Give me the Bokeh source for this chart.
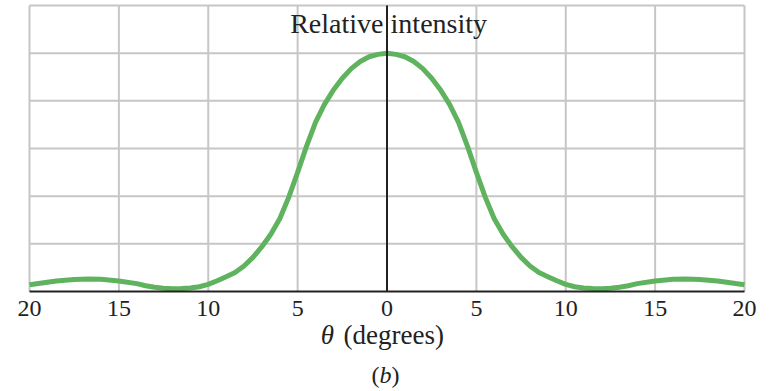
from bokeh.plotting import figure
from bokeh.models import Range1d, Label
from bokeh.core.properties import value
from bokeh.embed import file_html
from bokeh.resources import INLINE

# Relative intensity I/I0 (right half; curve is symmetric)
theta_half = [0.0, 0.5, 1.0, 1.5, 2.0, 2.5, 3.0, 3.5, 4.0, 4.5, 5.0, 5.5, 6.0, 6.5,
              7.0, 7.5, 8.0, 8.5, 9.0, 9.5, 10.0, 10.5, 11.0, 11.5, 12.0, 12.5,
              13.0, 13.5, 14.0, 15.0, 16.0, 16.7, 17.5, 18.5, 19.3, 20.0]
intensity_half = [1.000, 0.995, 0.985, 0.965, 0.935, 0.895, 0.845, 0.785, 0.710, 0.610,
                  0.500, 0.395, 0.305, 0.240, 0.188, 0.143, 0.107, 0.080, 0.062, 0.045,
                  0.030, 0.020, 0.015, 0.013, 0.012, 0.014, 0.018, 0.024, 0.033, 0.044,
                  0.051, 0.052, 0.050, 0.044, 0.036, 0.028]

x_ticks = [-20, -15, -10, -5, 0, 5, 10, 15, 20]
x_tick_labels = ["20", "15", "10", "5", "0", "5", "10", "15", "20"]
y_grid = [0.2, 0.4, 0.6, 0.8, 1.0, 1.2]

theta = [-t for t in theta_half[::-1]] + theta_half[1:]
intensity = intensity_half[::-1] + intensity_half[1:]

SERIF = "Liberation Serif"
GRID = "#c6c6c6"
INK = "#222222"

W, H = 769, 391
X0, X1 = x_ticks[0], x_ticks[-1]
Y_TOP = y_grid[-1]
# the frame covers the whole canvas so that every text is drawn inside it;
# the chart area itself spans 29..744 px horizontally and 5..291 px vertically
PPX = (744 - 29) / (X1 - X0)
PPY = (291 - 5) / Y_TOP
x_lo, x_hi = X0 - 29 / PPX, X1 + (W - 744) / PPX
y_lo, y_hi = -(H - 291) / PPY, Y_TOP + 5 / PPY
SHIFT = 9  # px: texts come out this much lower than their nominal baseline


def below_axis(px):
    """data y for a baseline that lies px pixels below the axis line"""
    return -(px - SHIFT) / PPY


p = figure(width=W, height=H, output_backend="svg", toolbar_location=None,
           x_range=Range1d(x_lo, x_hi), y_range=Range1d(y_lo, y_hi),
           x_axis_location=None, y_axis_location=None,
           min_border_left=0, min_border_right=0, min_border_top=0, min_border_bottom=0)
p.grid.visible = False
p.outline_line_color = None
p.background_fill_color = "white"
p.border_fill_color = "white"

# grid lines (vertical at every tick, horizontal at every grid level)
p.segment(x0=x_ticks, y0=[0] * len(x_ticks), x1=x_ticks, y1=[Y_TOP] * len(x_ticks),
          line_color=GRID, line_width=2)
p.segment(x0=[X0] * len(y_grid), y0=y_grid, x1=[X1] * len(y_grid), y1=y_grid,
          line_color=GRID, line_width=2)

p.line(theta, intensity, line_color="#5fb35f", line_width=5, line_join="round")

# axis line and centre line
p.segment(x0=[X0], y0=[0], x1=[X1], y1=[0], line_color=INK, line_width=2)
p.segment(x0=[0], y0=[0], x1=[0], y1=[Y_TOP], line_color=INK, line_width=2)

# tick labels
p.text(x=x_ticks, y=[below_axis(26)] * len(x_ticks), text=x_tick_labels,
       text_align="center", text_baseline="alphabetic",
       text_font=value(SERIF), text_font_size="24px", text_color=INK)

y_title = below_axis(31.7 - 291)
p.add_layout(Label(x=-0.2, y=y_title, text="Relative", text_align="right",
                   text_baseline="alphabetic", text_font=SERIF,
                   text_font_size="28px", text_color=INK))
p.add_layout(Label(x=0.2, y=y_title, text="intensity", text_align="left",
                   text_baseline="alphabetic", text_font=SERIF,
                   text_font_size="28px", text_color=INK))

y_lab = below_axis(52)
p.add_layout(Label(x=-3.33, y=y_lab, text="θ", text_align="center",
                   text_baseline="alphabetic", text_font=SERIF, text_font_style="italic",
                   text_font_size="27px", text_color=INK))
p.add_layout(Label(x=-2.43, y=y_lab, text="(degrees)", text_align="left",
                   text_baseline="alphabetic", text_font=SERIF,
                   text_font_size="27px", text_color=INK))

y_b = below_axis(92)
p.add_layout(Label(x=-0.42, y=y_b, text="(", text_align="right",
                   text_baseline="alphabetic", text_font=SERIF,
                   text_font_size="24px", text_color=INK))
p.add_layout(Label(x=-0.084, y=y_b, text="b", text_align="center",
                   text_baseline="alphabetic", text_font=SERIF, text_font_style="italic",
                   text_font_size="24px", text_color=INK))
p.add_layout(Label(x=0.25, y=y_b, text=")", text_align="left",
                   text_baseline="alphabetic", text_font=SERIF,
                   text_font_size="24px", text_color=INK))

open("out.html", "w").write(file_html(p, INLINE))
